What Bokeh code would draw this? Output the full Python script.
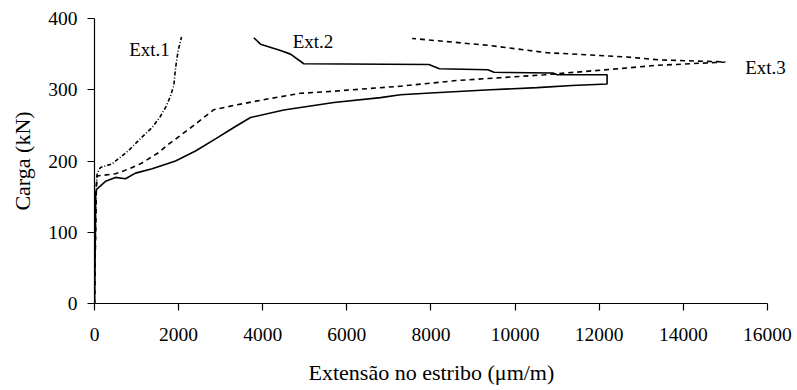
from bokeh.plotting import figure
from bokeh.models import Range1d, SingleIntervalTicker, Label, Title
from bokeh.embed import file_html
from bokeh.resources import INLINE

# Ext.1 (dash-dot)
ext1_x = [0, 15, 30, 45, 64, 143, 420, 816, 1100, 1371, 1560, 1688, 1800, 1886, 1926, 1989, 2068]
ext1_y = [0, 60, 120, 165, 183, 191, 196, 215, 232, 247, 262, 275, 290, 306, 330, 355, 374]

# Ext.2 (solid)
ext2_x = [0, 10, 20, 24, 50, 103, 262, 500, 737, 975, 1371, 1926, 2401, 2877, 3312, 3709,
          4501, 5690, 6799, 7275, 7989, 9415, 10525, 11350, 12187, 12187, 11000, 10900,
          9500, 9350, 8200, 7950, 4977, 4660, 4422, 3947, 3788]
ext2_y = [0, 50, 100, 154, 160, 163, 171.5, 177, 175, 183, 189, 200, 214, 231, 247, 261,
          271.5, 282, 289, 293, 295.5, 300, 303, 306, 308, 321, 321, 323.5,
          324.5, 328, 329.5, 335.5, 336.5, 350, 355, 364, 373]

# Ext.3 (dashed)
ext3_x = [0, 15, 30, 45, 64, 500, 816, 1094, 1530, 1728, 2361, 2837, 3312, 4105, 4898, 5690,
          7275, 8622, 10700, 12744, 13300, 15000, 13400, 12662, 10762, 9415, 7553]
ext3_y = [0, 60, 120, 165, 179, 182, 189, 196, 212, 222, 250, 272, 278, 287, 295, 298,
          305, 313, 321, 331, 334, 339, 342, 346, 352, 362, 372]

labels = ["Ext.1", "Ext.2", "Ext.3"]
label_x = [1308, 5195, 15953]
label_y = [357, 367.5, 331]

FONT = "Liberation Serif"

p = figure(width=797, height=390, output_backend="svg", toolbar_location=None,
           x_range=Range1d(0, 16500), y_range=Range1d(0, 400),
           min_border_left=94, min_border_right=9, min_border_top=18, min_border_bottom=87)
p.outline_line_color = None
p.xgrid.grid_line_color = None
p.ygrid.grid_line_color = None

p.xaxis.ticker = SingleIntervalTicker(interval=2000)
p.yaxis.ticker = SingleIntervalTicker(interval=100)
p.xaxis.bounds = (0, 16000)
for ax in (p.xaxis[0], p.yaxis[0]):
    ax.axis_line_color = "black"
    ax.axis_line_width = 1.2
    ax.major_tick_line_color = "black"
    ax.major_tick_line_width = 1.2
    ax.major_tick_out = 7
    ax.major_tick_in = 0
    ax.minor_tick_line_color = None
    ax.major_label_text_font = FONT
    ax.major_label_text_font_size = "19.5px"
    ax.major_label_text_color = "black"
    ax.axis_label_text_font = FONT
    ax.axis_label_text_font_size = "22px"
    ax.axis_label_text_font_style = "normal"
    ax.axis_label_text_color = "black"

p.yaxis.axis_label = "Carga (kN)"
p.xaxis.major_label_standoff = 17
p.yaxis.major_label_standoff = 10
p.yaxis.axis_label_standoff = 10

# small spacer between the x tick labels and the x title
p.xaxis.axis_label = " "
p.xaxis.axis_label_text_font_size = "8px"
p.xaxis.axis_label_standoff = 4

# x-axis title, placed below the axis and aligned with the 0..16000 span
p.add_layout(Title(text="Extensão no estribo (μm/m)", align="left", offset=214,
                   text_font=FONT, text_font_size="22px", text_font_style="normal",
                   text_color="black", standoff=0, vertical_align="top"), "below")

p.line(ext1_x, ext1_y, line_color="black", line_width=1.6, line_dash="4 2 1 2")
p.line(ext2_x, ext2_y, line_color="black", line_width=1.6)
p.line(ext3_x, ext3_y, line_color="black", line_width=1.6, line_dash="5 4")

for t, lx, ly in zip(labels, label_x, label_y):
    p.add_layout(Label(x=lx, y=ly, text=t, text_font=FONT, text_font_size="19px",
                       text_align="center", text_baseline="alphabetic", text_color="black"))

open("out.html", "w").write(file_html(p, INLINE))
